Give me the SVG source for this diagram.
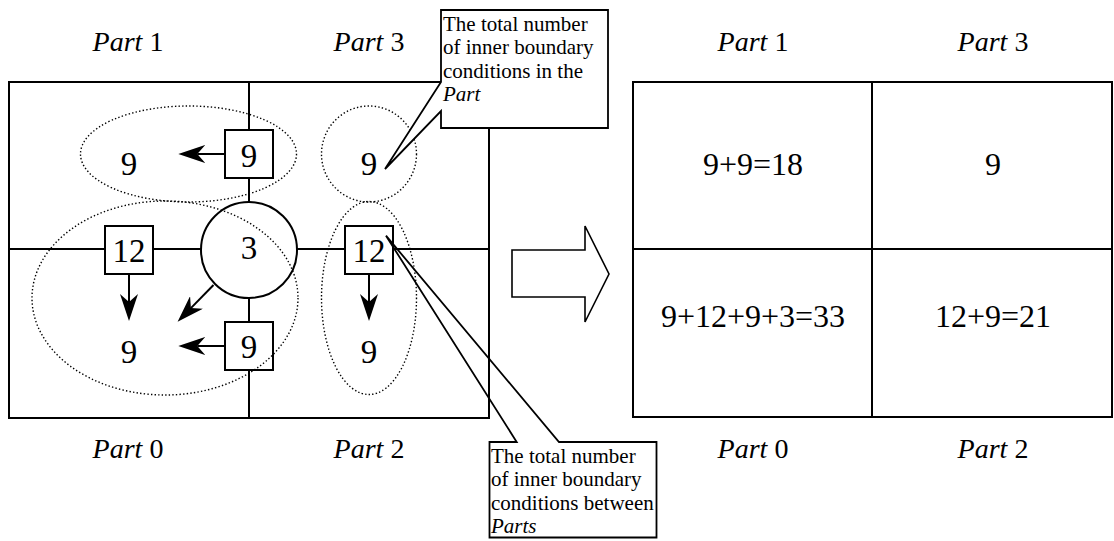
<svg xmlns="http://www.w3.org/2000/svg" width="1114" height="541" viewBox="0 0 1114 541" font-family="'Liberation Serif', 'Times New Roman', 'DejaVu Serif', serif">
<style>
text, tspan{font-family:'Liberation Serif','Times New Roman','DejaVu Serif',serif;fill:#000}
.lbl{font-size:28px}
.num{font-size:33px}
.rnum{font-size:32px}
.note{font-size:21px}
.ln{stroke:#000;stroke-width:2;fill:none}
.box{stroke:#000;stroke-width:2;fill:#fff}
.dot{stroke:#000;stroke-width:1.4;fill:none;stroke-dasharray:1.4 2.2}
.arr{stroke:#000;stroke-width:2;fill:none;marker-end:url(#ah)}
</style>
<defs>
<marker id="ah" markerUnits="userSpaceOnUse" viewBox="0 0 27 18" refX="8" refY="9" markerWidth="27" markerHeight="18" orient="auto">
<path d="M0,0 L27,9 L0,18 L8,9 Z" fill="#000"/>
</marker>
</defs>
<rect width="1114" height="541" fill="#fff"/>

<g id="left-grid">
<rect class="ln" x="9" y="82" width="480" height="336"/>
<path class="ln" d="M249,82V130 M249,178V202 M249,298V322 M249,370V418 M9,249H105 M153,249H201 M297,249H345 M393,249H489"/>
</g>

<g id="labels-left">
<text class="lbl" x="128" y="51" text-anchor="middle"><tspan font-style="italic">Part</tspan> 1</text>
<text class="lbl" x="369" y="51" text-anchor="middle"><tspan font-style="italic">Part</tspan> 3</text>
<text class="lbl" x="128" y="458" text-anchor="middle"><tspan font-style="italic">Part</tspan> 0</text>
<text class="lbl" x="369" y="458" text-anchor="middle"><tspan font-style="italic">Part</tspan> 2</text>
</g>

<g id="box-top9"><rect class="box" x="225" y="130" width="48" height="48"/><text class="num" x="249" y="167" text-anchor="middle">9</text></g>
<g id="box-bottom9"><rect class="box" x="225" y="322" width="48" height="48"/><text class="num" x="249" y="358" text-anchor="middle">9</text></g>
<g id="box-left12"><rect class="box" x="105" y="226" width="48" height="48"/><text class="num" x="129" y="262" text-anchor="middle">12</text></g>
<g id="box-right12"><rect class="box" x="345" y="226" width="48" height="48"/><text class="num" x="369" y="262" text-anchor="middle">12</text></g>
<g id="circle3"><circle class="box" cx="249" cy="250" r="48"/><text class="num" x="249" y="259" text-anchor="middle">3</text></g>

<g id="values-left">
<text class="num" x="129" y="175" text-anchor="middle">9</text>
<text class="num" x="369" y="175" text-anchor="middle">9</text>
<text class="num" x="129" y="363" text-anchor="middle">9</text>
<text class="num" x="369" y="363" text-anchor="middle">9</text>
</g>

<g id="connectors">
<line class="arr" x1="225" y1="154" x2="197.3" y2="154"/>
<line class="arr" x1="225" y1="346" x2="197.3" y2="346"/>
<line class="arr" x1="129" y1="274" x2="129" y2="302"/>
<line class="arr" x1="369" y1="274" x2="369" y2="302"/>
<line class="arr" x1="213.5" y1="285" x2="190.9" y2="308.1"/>
</g>

<g id="groups">
<ellipse class="dot" cx="188.5" cy="154" rx="108" ry="48"/>
<ellipse class="dot" cx="369" cy="154" rx="47.5" ry="48"/>
<ellipse class="dot" cx="165" cy="298" rx="133" ry="97"/>
<ellipse class="dot" cx="369" cy="298" rx="47.5" ry="96.5"/>
</g>

<g id="callout-top">
<path d="M441,82 L441,10 L608,10 L608,128 L441,128 L441,111 L385,169 Z" fill="#fff" stroke="#000" stroke-width="1.8"/>
<text class="note" x="443" y="31">The total number</text>
<text class="note" x="443" y="54">of inner boundary</text>
<text class="note" x="443" y="77.5">conditions in the</text>
<text class="note" x="443" y="101" font-style="italic">Part</text>
</g>

<g id="callout-bottom">
<rect x="489.5" y="442" width="167" height="95.5" fill="#fff"/>
<path d="M516.7,442 L489.5,442 L489.5,537.5 L656.5,537.5 L656.5,442 L559,442 L386,235.7 Z" fill="none" stroke="#000" stroke-width="1.8"/>
<text class="note" x="491" y="462.5">The total number</text>
<text class="note" x="491" y="486">of inner boundary</text>
<text class="note" x="491" y="509.5">conditions between</text>
<text class="note" x="491" y="533" font-style="italic">Parts</text>
</g>

<g id="big-arrow">
<polygon points="512,250 585,250 585,226 609,274 585,322 585,297 512,297" fill="#fff" stroke="#000" stroke-width="1.6"/>
</g>

<g id="right-grid">
<rect class="ln" x="633" y="82" width="479" height="335"/>
<path class="ln" d="M872,82V417 M633,249H1112"/>
<text class="rnum" x="753" y="175" text-anchor="middle">9+9=18</text>
<text class="rnum" x="993" y="175" text-anchor="middle">9</text>
<text class="rnum" x="753" y="327" text-anchor="middle">9+12+9+3=33</text>
<text class="rnum" x="993" y="327" text-anchor="middle">12+9=21</text>
<text class="lbl" x="753" y="51" text-anchor="middle"><tspan font-style="italic">Part</tspan> 1</text>
<text class="lbl" x="993" y="51" text-anchor="middle"><tspan font-style="italic">Part</tspan> 3</text>
<text class="lbl" x="753" y="458" text-anchor="middle"><tspan font-style="italic">Part</tspan> 0</text>
<text class="lbl" x="993" y="458" text-anchor="middle"><tspan font-style="italic">Part</tspan> 2</text>
</g>
</svg>
